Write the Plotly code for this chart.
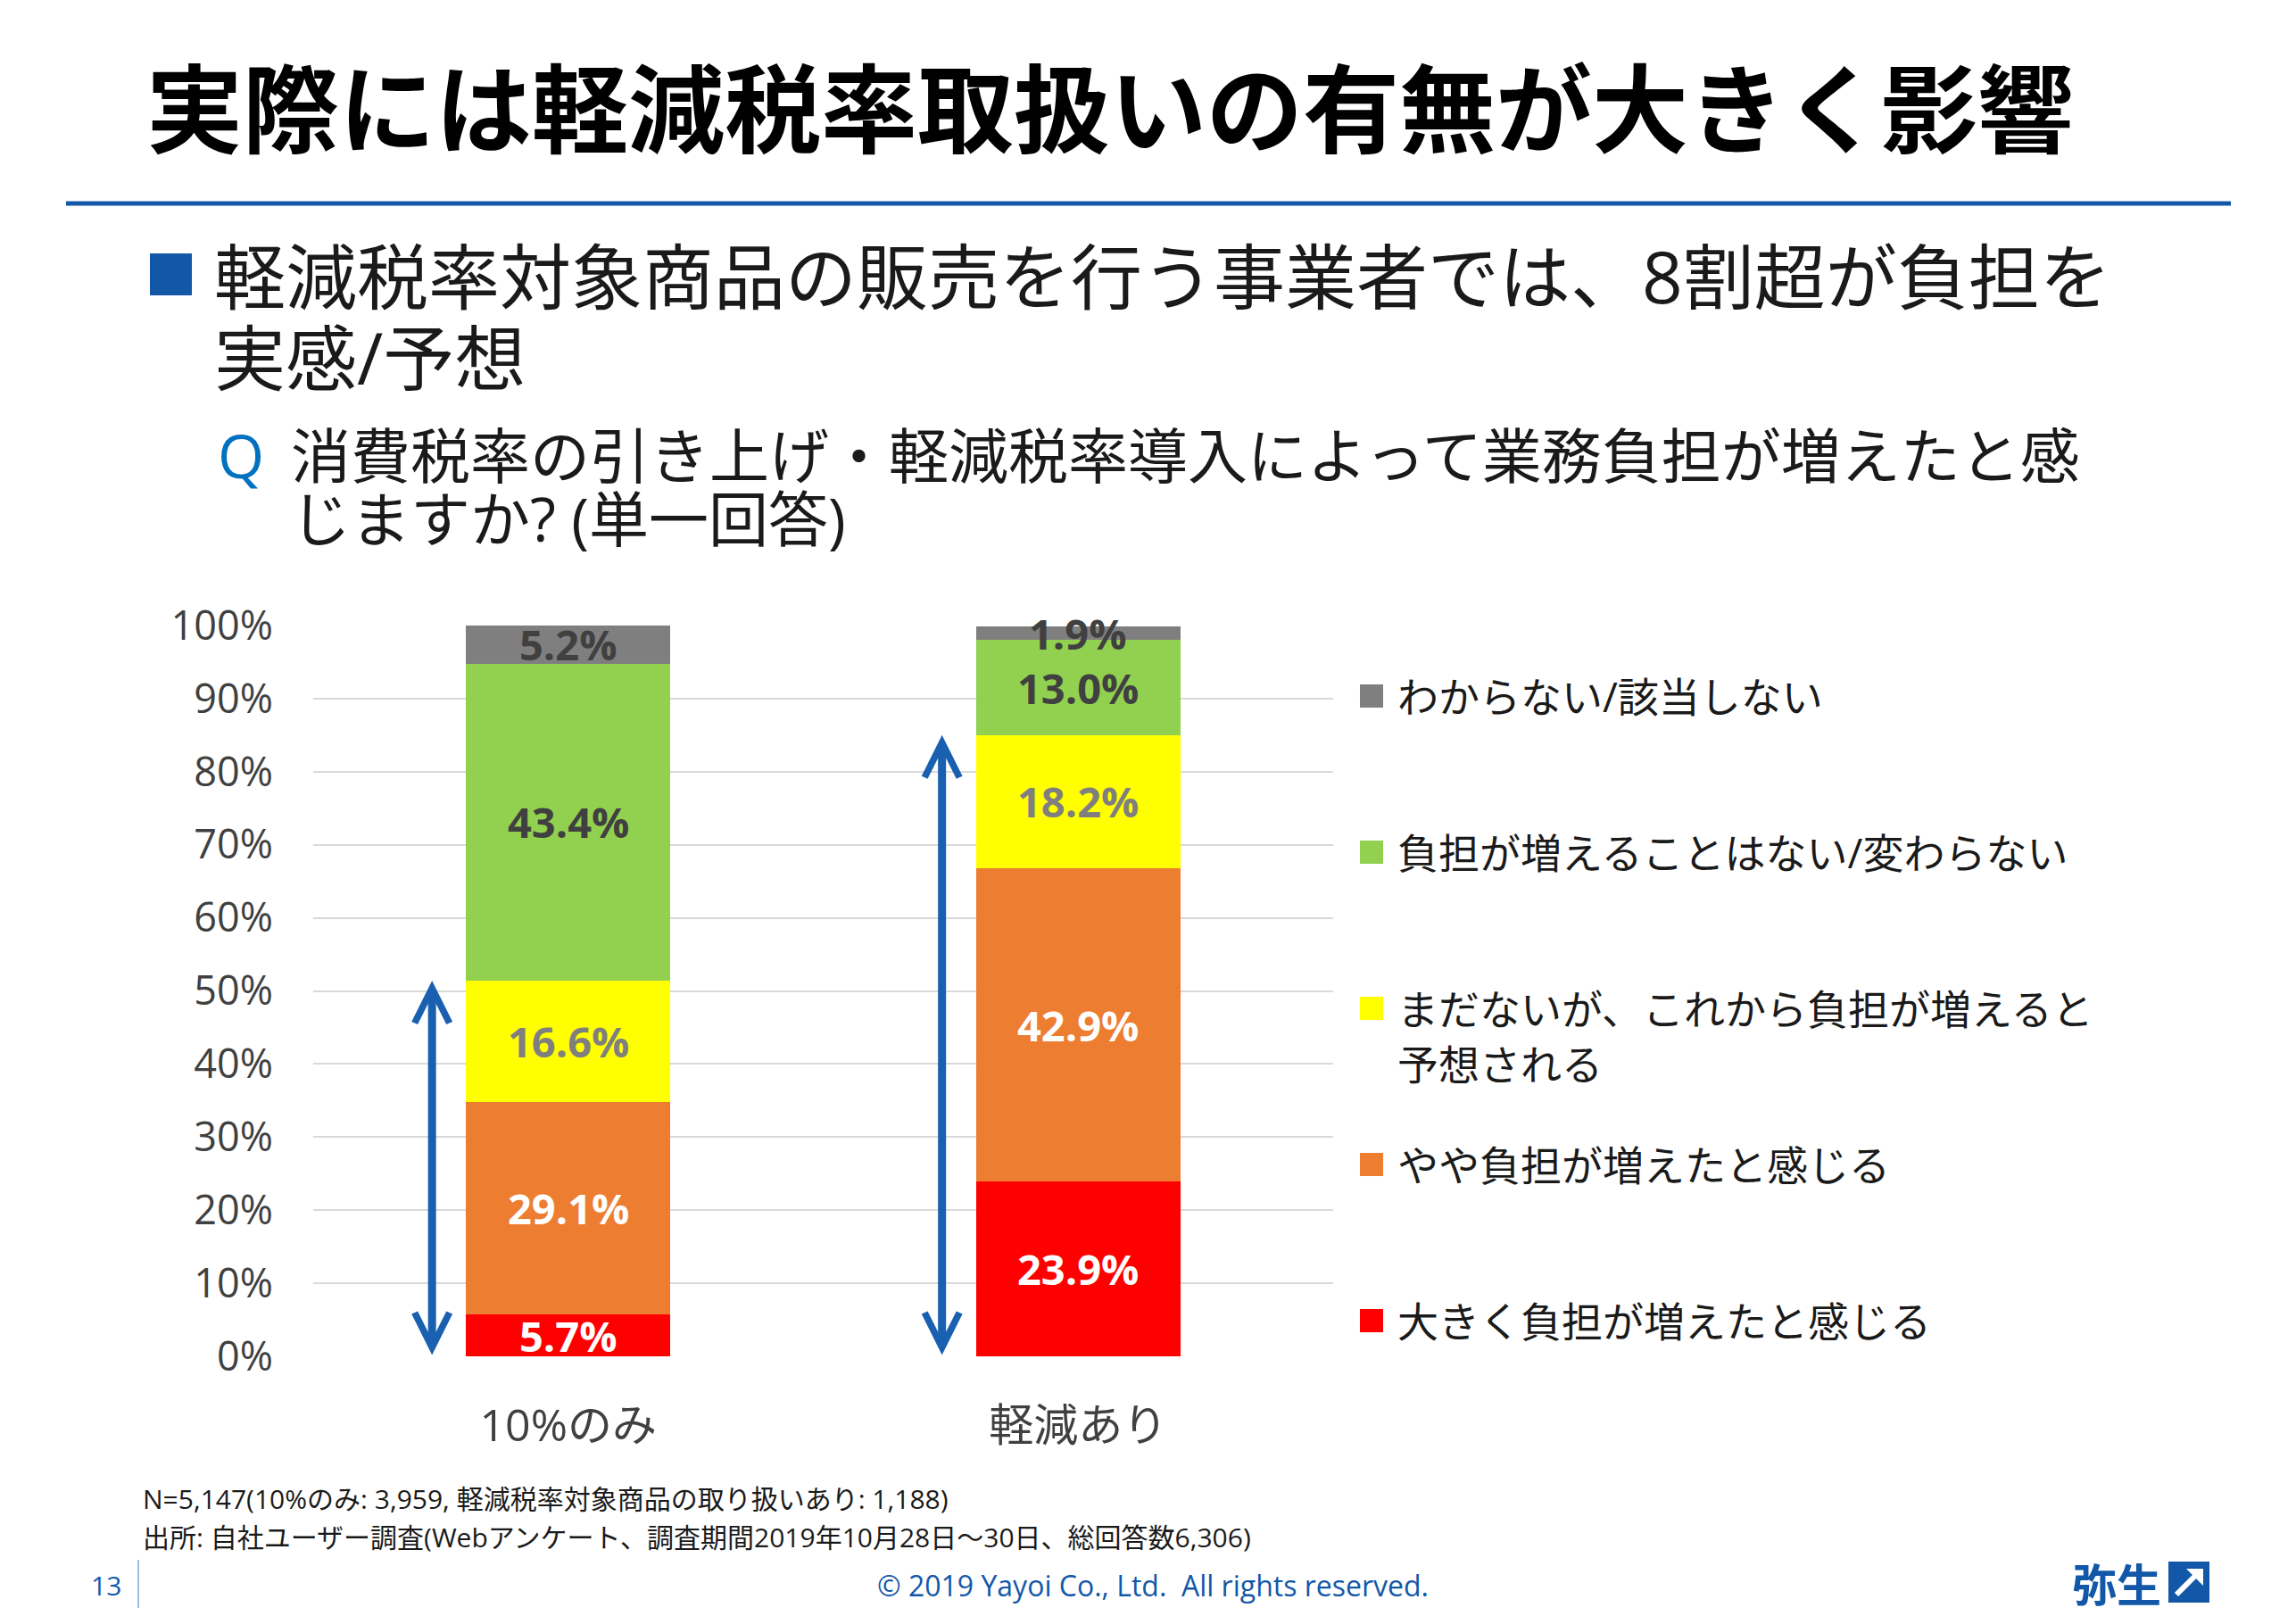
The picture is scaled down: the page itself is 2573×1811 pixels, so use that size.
import plotly.graph_objects as go

# ---------------- data ----------------
categories = ["10%のみ", "軽減あり"]
series_names = [
    "大きく負担が増えたと感じる",
    "やや負担が増えたと感じる",
    "まだないが、これから負担が増えると<br>予想される",
    "負担が増えることはない/変わらない",
    "わからない/該当しない",
]
red_vals = [5.7, 23.9]
orange_vals = [29.1, 42.9]
yellow_vals = [16.6, 18.2]
green_vals = [43.4, 13.0]
grey_vals = [5.2, 1.9]
y_tick_vals = [0, 10, 20, 30, 40, 50, 60, 70, 80, 90, 100]
y_tick_text = ["0%", "10%", "20%", "30%", "40%", "50%", "60%", "70%", "80%", "90%", "100%"]

series_vals = [red_vals, orange_vals, yellow_vals, green_vals, grey_vals]
series_colors = ["#ff0000", "#ed7d31", "#ffff00", "#92d050", "#7f7f7f"]
label_colors = ["#ffffff", "#ffffff", "#7f7f7f", "#404040", "#404040"]

# ---------------- layout geometry (screen pixels) ----------------
PAGE_MARGIN = 8  # default body margin of the html page
WF, HF = 2573 - 2 * PAGE_MARGIN, 1811 - 2 * PAGE_MARGIN
L, R, T, B = 351, 1494, 701, 1520


def px(x):
    return (x - L) / (R - L)


def py(y):
    return (B - y) / (B - T)


FONT = "Open Sans, Noto Sans CJK JP, sans-serif"
JP = "Noto Sans CJK JP, sans-serif"
BLUE = "#1358a8"
ARROW_BLUE = "#1a60b0"
TXT = "#1a1a1a"

fig = go.Figure()
for name, vals, col in zip(series_names, series_vals, series_colors):
    fig.add_trace(go.Bar(
        x=categories, y=vals, name=name.replace("<br>", ""),
        marker=dict(color=col, line=dict(width=0)),
        showlegend=False, hoverinfo="skip",
    ))

fig.update_layout(
    width=WF, height=HF, barmode="stack", bargap=0.6,
    margin=dict(l=L - PAGE_MARGIN, r=WF - (R - PAGE_MARGIN),
                t=T - PAGE_MARGIN, b=HF - (B - PAGE_MARGIN), autoexpand=False),
    paper_bgcolor="white", plot_bgcolor="white",
    font=dict(family=FONT, color=TXT),
    showlegend=False,
)
fig.update_yaxes(
    range=[0, 100], tickmode="array", tickvals=y_tick_vals, ticktext=y_tick_text,
    tickfont=dict(family=FONT, size=45, color="#404040"),
    showgrid=True, gridcolor="#d9d9d9", gridwidth=2,
    zeroline=False, showline=False, ticks="", ticklabelstandoff=44,
)
fig.update_xaxes(
    tickfont=dict(family=FONT, size=50, color="#404040"),
    showgrid=False, zeroline=False, showline=False, ticks="",
    ticklabelstandoff=44,
)

annotations = []
shapes = []

# data labels centred in each segment
for j, cat in enumerate(categories):
    base = 0.0
    for vals, lcol in zip(series_vals, label_colors):
        v = vals[j]
        annotations.append(dict(
            x=cat, y=base + v / 2, xref="x", yref="y",
            text=f"<b>{v:.1f}%</b>", showarrow=False,
            xanchor="center", yanchor="middle",
            font=dict(family=FONT, size=47, color=lcol),
        ))
        base += v

# double-headed arrows spanning the "burden" segments
burden_tops = [r + o + y for r, o, y in zip(red_vals, orange_vals, yellow_vals)]
arrow_offsets = [-0.267, -0.267]
for i, top in enumerate(burden_tops):
    xa = i + arrow_offsets[i]
    annotations.append(dict(
        x=xa, y=top, ax=xa, ay=0, xref="x", yref="y", axref="x", ayref="y",
        text="", showarrow=True, arrowside="end+start",
        arrowhead=5, startarrowhead=5, arrowsize=0.85, startarrowsize=0.85,
        arrowwidth=9, arrowcolor=ARROW_BLUE, standoff=0, startstandoff=0,
    ))

# custom legend (top to bottom)
legend_order = list(range(len(series_names)))[::-1]
for k, idx in enumerate(legend_order):
    cy = 780 + k * 175
    shapes.append(dict(type="rect", xref="paper", yref="paper",
                       x0=px(1524), x1=px(1550), y0=py(cy + 13), y1=py(cy - 13),
                       fillcolor=series_colors[idx], line=dict(width=0)))
    for j, line in enumerate(series_names[idx].split("<br>")):
        annotations.append(dict(
            x=px(1564), y=py(cy + j * 62), xref="paper", yref="paper",
            text=line, showarrow=False, xanchor="left", yanchor="middle",
            font=dict(family=FONT, size=46, color=TXT),
        ))

# title
annotations.append(dict(
    x=px(162), y=py(116), xref="paper", yref="paper",
    text="実際には軽減税率取扱いの有無が大きく影響", showarrow=False,
    xanchor="left", yanchor="middle",
    font=dict(family=JP, size=108, color="#000000", weight="bold"),
))
shapes.append(dict(type="line", xref="paper", yref="paper",
                   x0=px(74), x1=px(2500), y0=py(228), y1=py(228),
                   line=dict(color=BLUE, width=5)))

# bullet
shapes.append(dict(type="rect", xref="paper", yref="paper",
                   x0=px(168), x1=px(215), y0=py(331), y1=py(284),
                   fillcolor=BLUE, line=dict(width=0)))
annotations.append(dict(
    x=px(238), y=py(309), xref="paper", yref="paper",
    text="軽減税率対象商品の販売を行う事業者では、8割超が負担を", showarrow=False,
    xanchor="left", yanchor="middle", font=dict(family=FONT, size=80, color=TXT),
))
annotations.append(dict(
    x=px(238), y=py(399), xref="paper", yref="paper",
    text="実感/予想", showarrow=False,
    xanchor="left", yanchor="middle", font=dict(family=FONT, size=80, color=TXT),
))

# question
annotations.append(dict(
    x=px(242), y=py(510), xref="paper", yref="paper",
    text="Q", showarrow=False, xanchor="left", yanchor="middle",
    font=dict(family=FONT, size=67, color="#0070c0"),
))
annotations.append(dict(
    x=px(324), y=py(510), xref="paper", yref="paper",
    text="消費税率の引き上げ・軽減税率導入によって業務負担が増えたと感", showarrow=False,
    xanchor="left", yanchor="middle", font=dict(family=FONT, size=67, color=TXT),
))
annotations.append(dict(
    x=px(324), y=py(581), xref="paper", yref="paper",
    text="じますか? (単一回答)", showarrow=False,
    xanchor="left", yanchor="middle", font=dict(family=FONT, size=67, color=TXT),
))

# footnotes
annotations.append(dict(
    x=px(158), y=py(1679), xref="paper", yref="paper",
    text="N=5,147(10%のみ: 3,959, 軽減税率対象商品の取り扱いあり: 1,188)", showarrow=False,
    xanchor="left", yanchor="middle", font=dict(family=FONT, size=30, color=TXT),
))
annotations.append(dict(
    x=px(158), y=py(1722), xref="paper", yref="paper",
    text="出所: 自社ユーザー調査(Webアンケート、調査期間2019年10月28日～30日、総回答数6,306)",
    showarrow=False, xanchor="left", yanchor="middle",
    font=dict(family=FONT, size=30, color=TXT),
))

# page number and copyright
annotations.append(dict(
    x=px(100), y=py(1776), xref="paper", yref="paper",
    text="13", showarrow=False, xanchor="left", yanchor="middle",
    font=dict(family=FONT, size=30, color=BLUE),
))
shapes.append(dict(type="line", xref="paper", yref="paper",
                   x0=px(155), x1=px(155), y0=py(1748), y1=py(1802),
                   line=dict(color="#9dbbe0", width=2)))
annotations.append(dict(
    x=px(1292), y=py(1776), xref="paper", yref="paper",
    text="© 2019 Yayoi Co., Ltd.\u00a0\u00a0All rights reserved.", showarrow=False,
    xanchor="center", yanchor="middle", font=dict(family=FONT, size=32, color=BLUE),
))

# logo
annotations.append(dict(
    x=px(2372), y=py(1773), xref="paper", yref="paper",
    text="弥生", showarrow=False, xanchor="center", yanchor="middle",
    font=dict(family=JP, size=50, color=BLUE, weight="bold"),
))
shapes.append(dict(type="rect", xref="paper", yref="paper",
                   x0=px(2430), x1=px(2476), y0=py(1796), y1=py(1750),
                   fillcolor=BLUE, line=dict(width=0)))
shapes.append(dict(type="line", xref="paper", yref="paper",
                   x0=px(2439), x1=px(2462), y0=py(1787), y1=py(1764),
                   line=dict(color="white", width=6)))
shapes.append(dict(type="path", xref="paper", yref="paper",
                   path=f"M {px(2450)} {py(1758)} L {px(2469)} {py(1758)} L {px(2469)} {py(1777)} Z",
                   fillcolor="white", line=dict(width=0)))

fig.update_layout(annotations=annotations, shapes=shapes)
fig.write_html("out.html")
